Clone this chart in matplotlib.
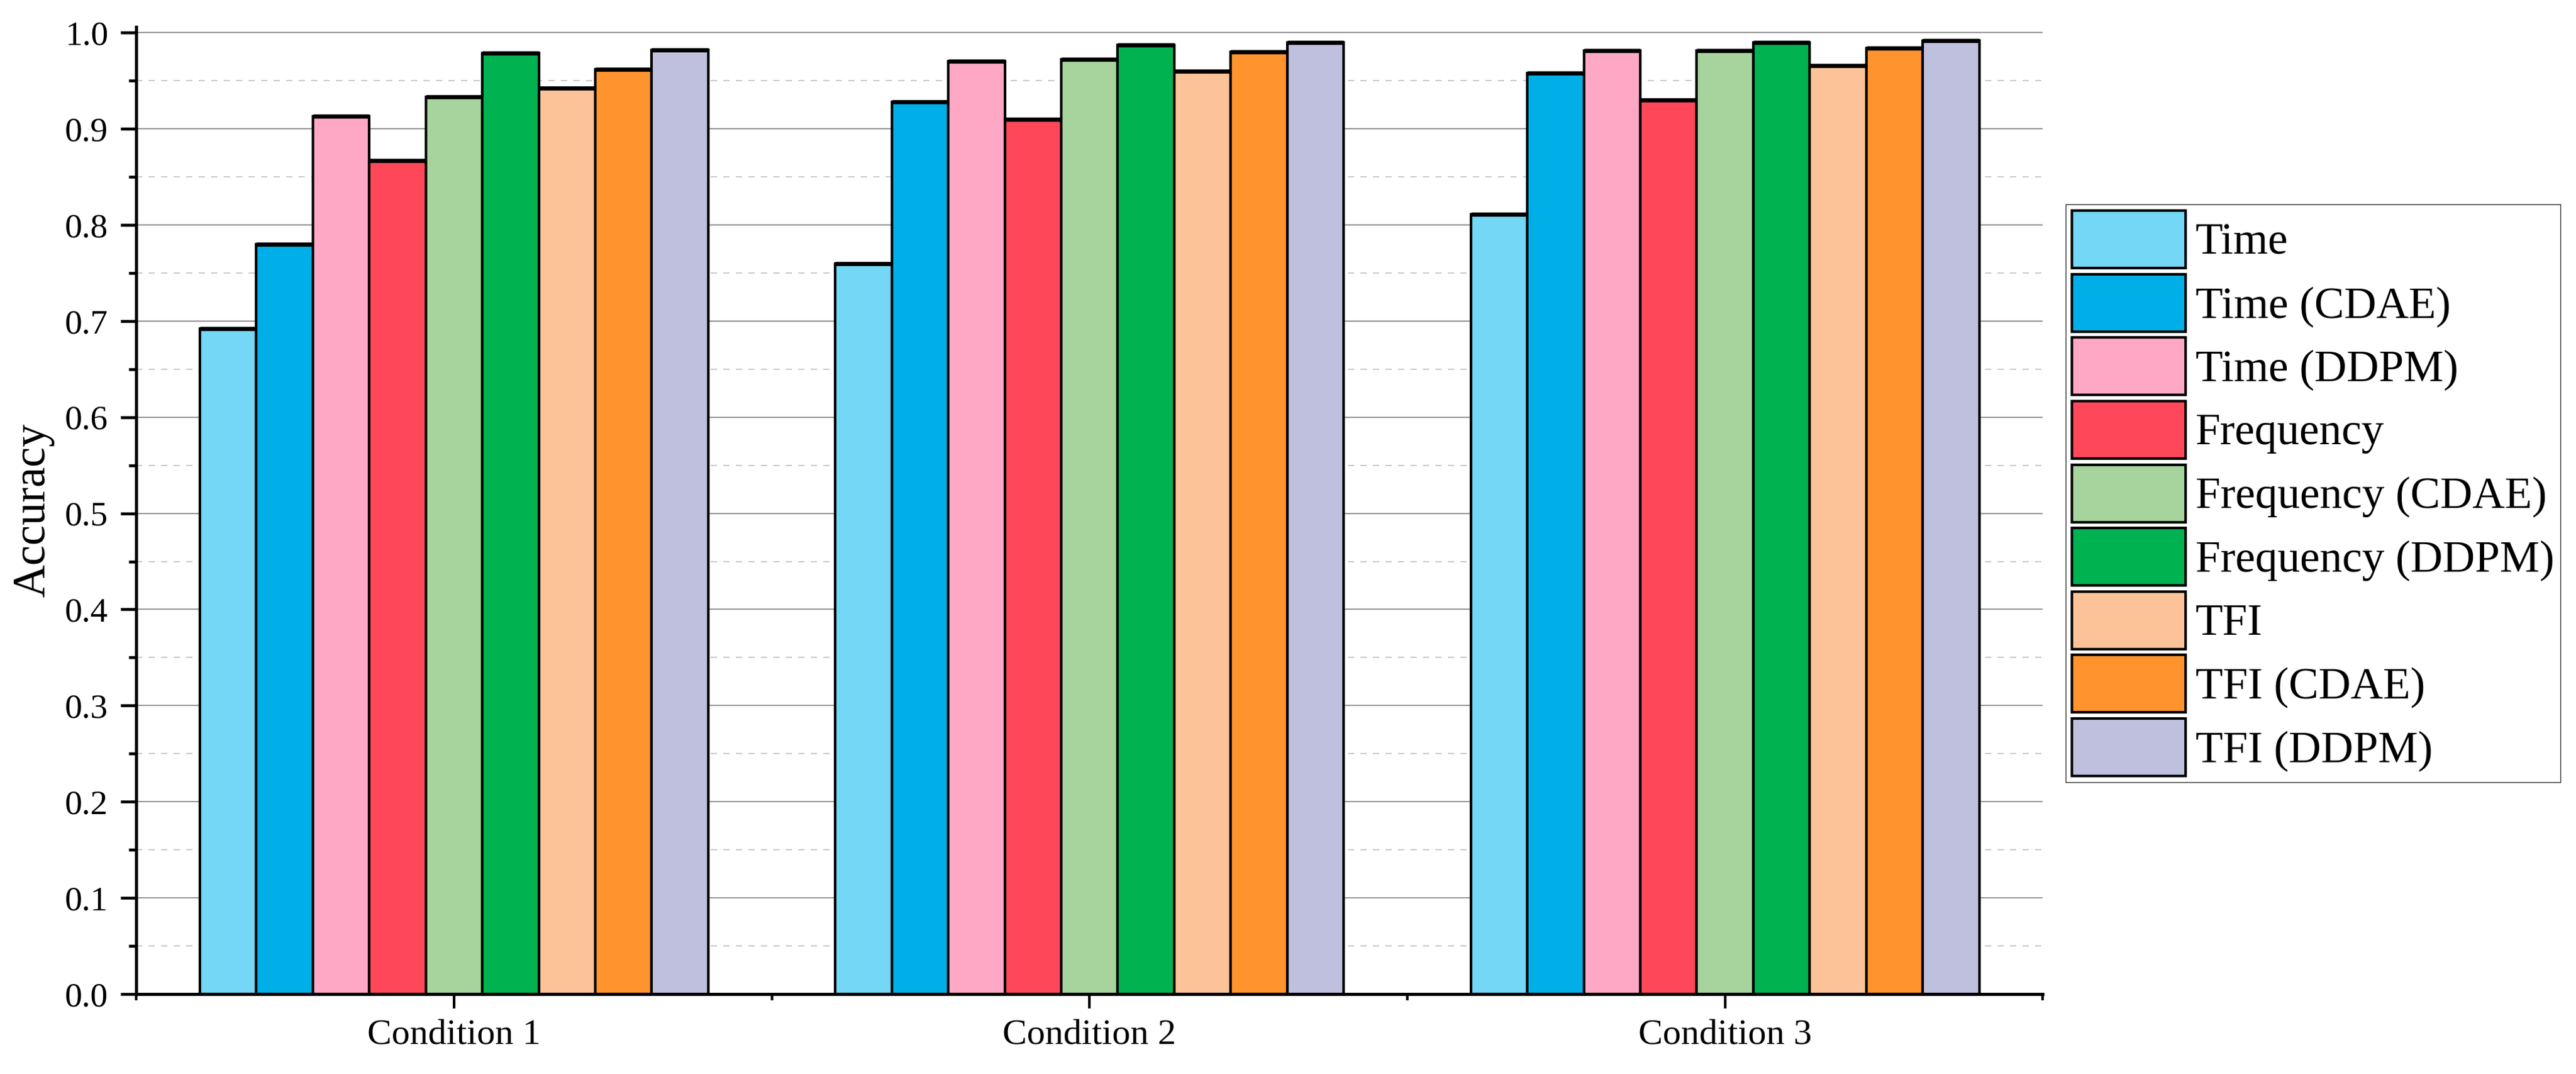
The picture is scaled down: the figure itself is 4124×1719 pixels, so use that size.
import numpy as np
import matplotlib
matplotlib.use("Agg")
import matplotlib.pyplot as plt

# data
conditions = ["Condition 1", "Condition 2", "Condition 3"]
methods = ["Time", "Time (CDAE)", "Time (DDPM)",
           "Frequency", "Frequency (CDAE)", "Frequency (DDPM)",
           "TFI", "TFI (CDAE)", "TFI (DDPM)"]
colors = ["#73D7F5", "#00AFE8", "#FFA8C5",
          "#FF475A", "#A6D49C", "#00B250",
          "#FCC398", "#FF932E", "#BFC0DE"]
time_acc = [0.692, 0.760, 0.811]
time_cdae = [0.780, 0.928, 0.958]
time_ddpm = [0.913, 0.970, 0.981]
freq_acc = [0.867, 0.910, 0.930]
freq_cdae = [0.933, 0.972, 0.981]
freq_ddpm = [0.979, 0.987, 0.990]
tfi_acc = [0.942, 0.960, 0.966]
tfi_cdae = [0.962, 0.980, 0.984]
tfi_ddpm = [0.982, 0.990, 0.992]
values = [time_acc, time_cdae, time_ddpm, freq_acc, freq_cdae, freq_ddpm,
          tfi_acc, tfi_cdae, tfi_ddpm]

plt.rcParams["font.family"] = ["Liberation Serif", "DejaVu Serif"]

fig = plt.figure(figsize=(4124 / 300, 1719 / 300), dpi=300)
ax = fig.add_axes([0.0529, 0.0745, 0.7401, 0.9005])

x = np.arange(len(conditions))
n = len(methods)
w = 0.8 / n
for i in range(n):
    bars = ax.bar(x + (i - (n - 1) / 2) * w, values[i], width=w, color=colors[i],
                  edgecolor="black", linewidth=1.0, label=methods[i], zorder=3)
    # slightly heavier top edge, like the original
    for r in bars:
        ax.hlines(r.get_height(), r.get_x(), r.get_x() + r.get_width(),
                  color="black", linewidth=1.6, zorder=4)

ax.set_xlim(-0.5, 2.5)
ax.set_ylim(0, 1.006)

# axes styling
ax.spines["top"].set_visible(False)
ax.spines["right"].set_visible(False)
ax.spines["left"].set_linewidth(1.2)
ax.spines["bottom"].set_linewidth(1.2)

ax.set_yticks(np.arange(0, 1.01, 0.1))
ax.set_yticks(np.arange(0.05, 1.0, 0.1), minor=True)
ax.set_yticklabels(["%.1f" % v for v in np.arange(0, 1.01, 0.1)])
ax.set_xticks(x)
ax.set_xticklabels(conditions)
ax.set_xticks([-0.5, 0.5, 1.5, 2.5], minor=True)

ax.tick_params(axis="y", which="major", direction="out", length=6, width=1.1,
               labelsize=13.3, pad=4.8)
ax.tick_params(axis="y", which="minor", direction="out", length=3, width=1.1)
ax.tick_params(axis="x", which="major", direction="out", length=5.5, width=1.0,
               labelsize=14, pad=4)
ax.tick_params(axis="x", which="minor", direction="out", length=2.3, width=1.0)

# gridlines
ax.set_axisbelow(True)
ax.yaxis.grid(True, which="major", color="#808080", linewidth=0.4, linestyle="-")
ax.yaxis.grid(True, which="minor", color="#c0c0c0", linewidth=0.4,
              linestyle=(0, (6, 6)))

ax.set_ylabel("Accuracy", fontsize=17.5, labelpad=4)

leg = fig.legend(loc="upper left", bbox_to_anchor=(3307 / 4124, 1 - 327 / 1719),
                 bbox_transform=fig.transFigure, borderaxespad=0, fontsize=17.2,
                 frameon=True, fancybox=False, edgecolor="black",
                 handlelength=2.54, handleheight=1.6, labelspacing=0.133,
                 handletextpad=0.22, borderpad=0.14)
leg.get_frame().set_linewidth(0.35)

fig.savefig("out.png", dpi=300)
